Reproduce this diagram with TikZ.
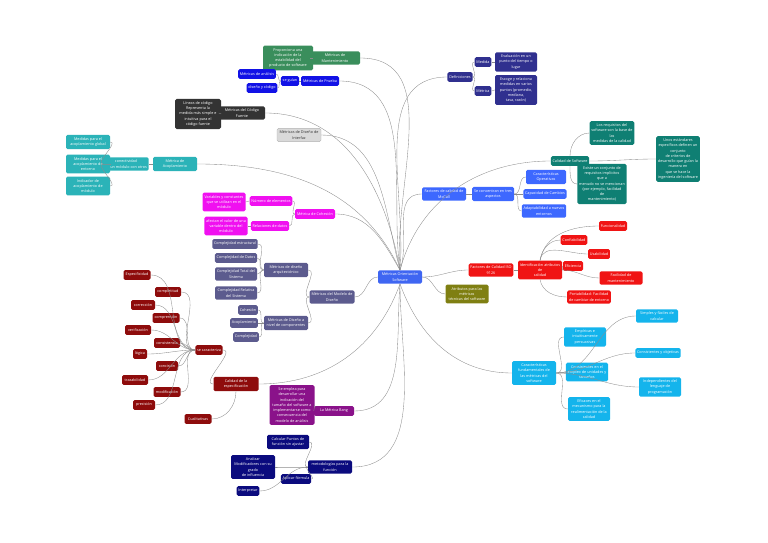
\documentclass[tikz,border=0pt]{standalone}
\usepackage{fontspec}
\setmainfont{Open Sans}
\definecolor{cMain}{HTML}{3F66F2}
\definecolor{cMant}{HTML}{3A8E5C}
\definecolor{cPrueba}{HTML}{1212E6}
\definecolor{cCod}{HTML}{333333}
\definecolor{cInt}{HTML}{D9D9D9}
\definecolor{cAcop}{HTML}{2BB3B8}
\definecolor{cCoh}{HTML}{F010F0}
\definecolor{cMod}{HTML}{5C5B8E}
\definecolor{cEsp}{HTML}{8E0C0C}
\definecolor{cBang}{HTML}{8A128A}
\definecolor{cMet}{HTML}{0B0B7E}
\definecolor{cDef}{HTML}{30308F}
\definecolor{cMcC}{HTML}{3D68FF}
\definecolor{cCal}{HTML}{0F7F73}
\definecolor{cIso}{HTML}{F01414}
\definecolor{cAtr}{HTML}{7F7F12}
\definecolor{cFund}{HTML}{14B4EC}
\begin{document}
\begin{tikzpicture}[x=0.3mm,y=-0.3mm,
  box/.style={rounded corners=1.3pt, text=white, align=center, inner xsep=1.5pt, inner ysep=2.2pt,
    minimum height=2.9mm, font=\fontsize{3.2}{4.5}\selectfont},
  mw/.style={minimum width=#1*0.3mm},
  conn/.style={draw=black!45, line width=0.3pt}]
  \useasboundingbox (0,0) rectangle (768,543);

  % centre of the map
  \node[box, fill=cMain, mw=44] (main) at (400,277) {Métricas Orientación\\Software};

  % Below nodes are the left branches.
  \node[box, fill=cMant, mw=50] (mant) at (335,58) {Métricas de\\Mantenimiento};
  \node[box, fill=cMant, mw=50] (mantd) at (288,58) {Proporciona una\\indicación de la\\estabilidad del\\producto de software};
  \node[box, fill=cPrueba, mw=38] (prueba) at (320,81) {Métricas de Prueba};
  \node[box, fill=cPrueba, mw=16] (guian) at (290,81) {se guían};
  \node[box, fill=cPrueba, mw=35] (analisis) at (257,74) {Métricas de análisis};
  \node[box, fill=cPrueba, mw=28] (discod) at (262,88) {diseño y código};
  \node[box, fill=cCod, mw=46] (codigo) at (242,113) {Métricas del Código\\Fuente};
  \node[box, fill=cCod, mw=46] (codigod) at (198,114) {Líneas de código\\Representa la\\medida más simple e\\intuitiva para el\\código fuente};
  \node[box, fill=cInt, draw=black!30, text=black!80, mw=44] (interfaz) at (299,135) {Métricas de Diseño de\\Interfaz};
  \node[box, fill=cAcop, mw=44] (acop) at (175,164) {Métrica de\\Acoplamiento};
  \node[box, fill=cAcop, mw=42] (conect) at (126,164) {conectividad\\de un módulo con otros};
  \node[box, fill=cAcop, mw=44] (ac1) at (88,142) {Medidas para el\\acoplamiento global};
  \node[box, fill=cAcop, mw=44] (ac2) at (88,164) {Medidas para el\\acoplamiento de\\entorno};
  \node[box, fill=cAcop, mw=44] (ac3) at (88,186) {Indicador de\\acoplamiento de\\módulo};
  \node[box, fill=cCoh, mw=40] (cohes) at (315,214) {Métrica de Cohesión};
  \node[box, fill=cCoh, mw=40] (numel) at (271,201) {Número de elementos};
  \node[box, fill=cCoh, mw=43] (numeld) at (224,202) {Variables y constantes\\que se utilizan en el\\módulo};
  \node[box, fill=cCoh, mw=36] (reldat) at (270,226) {Relaciones de datos};
  \node[box, fill=cCoh, mw=43] (reldatd) at (226,226) {afectan el valor de una\\variable dentro del\\módulo};
  \node[box, fill=cMod, mw=45] (modelo) at (332,297) {Métricas del Modelo de\\Diseño};
  \node[box, fill=cMod, mw=44] (arq) at (286,270) {Métricas de diseño\\arquitectónico};
  \node[box, fill=cMod, mw=43] (ca1) at (235,244) {Complejidad estructural};
  \node[box, fill=cMod, mw=38] (ca2) at (236,258) {Complejidad de Datos};
  \node[box, fill=cMod, mw=42] (ca3) at (236,274) {Complejidad Total del\\Sistema};
  \node[box, fill=cMod, mw=42] (ca4) at (236,293) {Complejidad Relativa\\del Sistema};
  \node[box, fill=cMod, mw=44] (compo) at (286,323) {Métricas de Diseño a\\nivel de componentes};
  \node[box, fill=cMod, mw=18] (cc1) at (248,310) {Cohesión};
  \node[box, fill=cMod, mw=27] (cc2) at (244,323) {Acoplamiento};
  \node[box, fill=cMod, mw=25] (cc3) at (246,337) {Complejidad};
  \node[box, fill=cEsp, mw=45] (espec) at (236,384) {Calidad de la\\especificación};
  \node[box, fill=cEsp, mw=26] (carac) at (209,350) {se caracteriza};
  \foreach \nm/\x/\y/\w/\txt in {e1/137/275/27/Especificidad, e2/168/292/26/completitud,
      e3/143/305/24/corrección, e4/166/318/27/comprensión, e5/138/330/26/verificación,
      e6/167/343/26/consistencia, e7/140/354/14/lógica, e8/167/366/22/concisión,
      e9/135/380/26/trazabilidad, e10/167/392/27/modificación, e11/144/405/22/precisión}
    \node[box, fill=cEsp, mw=\w] (\nm) at (\x,\y) {\txt};
  \node[box, fill=cEsp, mw=27] (cualit) at (198,419) {Cualitativas};
  \node[box, fill=cBang, mw=40] (bang) at (334,411) {La Métrica Bang};
  \node[box, fill=cBang, mw=45] (bangd) at (292,405) {Se emplea para\\desarrollar una\\indicación del\\tamaño del software a\\implementarse como\\consecuencia del\\modelo de análisis};
  \node[box, fill=cMet, mw=44] (metod) at (330,467) {metodologías para la\\función};
  \node[box, fill=cMet, mw=42] (m1) at (288,442) {Calcular Puntos de\\función sin ajustar};
  \node[box, fill=cMet, mw=44] (m2) at (253,467) {Analizar\\Modificadores con su\\grado\\de influencia};
  \node[box, fill=cMet, mw=30] (m3) at (296,479) {Aplicar fórmula};
  \node[box, fill=cMet, mw=22] (m4) at (248,491) {Interpretar};

  % Below nodes are the right branches.
  \node[box, fill=cDef, mw=22] (defin) at (460,77) {Definiciones};
  \node[box, fill=cDef, mw=15] (medida) at (483,62) {Medida};
  \node[box, fill=cDef, mw=42] (medidad) at (516,62) {Evaluación en un\\punto del tiempo o\\lugar};
  \node[box, fill=cDef, mw=15] (metrica) at (483,91) {Métrica};
  \node[box, fill=cDef, mw=42] (metricad) at (516,90) {Escoge y relaciona\\medidas en varios\\puntos (promedio,\\mediana,\\tasa, razón)};
  \node[box, fill=cMcC, mw=44] (mccall) at (444,194) {Factores de calidad de\\McCall};
  \node[box, fill=cMcC, mw=42] (tres) at (493,194) {Se concentran en tres\\aspectos};
  \node[box, fill=cMcC, mw=40] (t1) at (546,177) {Características\\Operativas};
  \node[box, fill=cMcC, mw=40] (t2) at (545,194) {Capacidad de Cambios};
  \node[box, fill=cMcC, mw=40] (t3) at (544,211) {Adaptabilidad a nuevos\\entornos};
  \node[box, fill=cCal, mw=38] (calsoft) at (570,161) {Calidad de Software};
  \node[box, fill=cCal, mw=42] (cs1) at (612,133) {Los requisitos del\\software son la base de\\las\\medidas de la calidad};
  \node[box, fill=cCal, mw=42] (cs2) at (602,184) {Existe un conjunto de\\requisitos implícitos\\que a\\menudo no se mencionan\\(por ejemplo, facilidad\\de\\mantenimiento)};
  \node[box, fill=cCal, mw=42] (cs3) at (678,159) {Unos estándares\\específicos definen un\\conjunto\\de criterios de\\desarrollo que guían la\\manera en\\que se hace la\\ingeniería del software};
  \node[box, fill=cIso, mw=44] (iso) at (491,270) {Factores de Calidad ISO\\9126};
  \node[box, fill=cIso, mw=44] (ident) at (540,270) {Identificación atributos\\de\\calidad};
  \node[box, fill=cIso, mw=26] (i1) at (613,226) {Funcionalidad};
  \node[box, fill=cIso, mw=24] (i2) at (574,240) {Confiabilidad};
  \node[box, fill=cIso, mw=20] (i3) at (599,254) {Usabilidad};
  \node[box, fill=cIso, mw=20] (i4) at (573,266) {Eficiencia};
  \node[box, fill=cIso, mw=43] (i5) at (621,278) {Facilidad de\\mantenimiento};
  \node[box, fill=cIso, mw=43] (i6) at (589,297) {Portabilidad: Facilidad\\de cambiar de entorno};
  \node[box, fill=cAtr, mw=43] (atrib) at (467,294) {Atributos para las\\métricas\\técnicas del software};
  \node[box, fill=cFund, mw=44] (fund) at (534,373) {Características\\fundamentales de\\las métricas del\\software};
  \node[box, fill=cFund, mw=42] (f1) at (657,316) {Simples y fáciles de\\calcular};
  \node[box, fill=cFund, mw=42] (f2) at (585,337) {Empíricas e\\intuitivamente\\persuasivas};
  \node[box, fill=cFund, mw=42] (f3) at (658,353) {Consistentes y objetivas};
  \node[box, fill=cFund, mw=42] (f4) at (587,372) {Consistentes en el\\empleo de unidades y\\tamaños};
  \node[box, fill=cFund, mw=42] (f5) at (660,387) {Independientes del\\lenguaje de\\programación};
  \node[box, fill=cFund, mw=42] (f6) at (589,409) {Eficaces en el\\mecanismo para la\\realimentación de la\\calidad};

  % branches from the centre
  \draw[conn] (main.north) to[out=95,in=0] (mant.east);
  \draw[conn] (main.north) to[out=98,in=0] (prueba.east);
  \draw[conn] (main.north) to[out=100,in=0] (codigo.east);
  \draw[conn] (main.north) to[out=105,in=0] (interfaz.east);
  \draw[conn] (main.north) to[out=115,in=0] (acop.east);
  \draw[conn] (main.north) to[out=120,in=0] (cohes.east);
  \draw[conn] (main.west) to[out=180,in=0] (modelo.east);
  \draw[conn] (main.south) to[out=-110,in=0] (espec.east);
  \draw[conn] (main.south) to[out=-95,in=0] (bang.east);
  \draw[conn] (main.south) to[out=-90,in=0] (metod.east);
  \draw[conn] (main.north) to[out=85,in=180] (defin.west);
  \draw[conn] (main.north) to[out=75,in=180] (calsoft.west);
  \draw[conn] (main.north) to[out=70,in=180] (mccall.west);
  \draw[conn] (main.east) to[out=0,in=180] (iso.west);
  \draw[conn] (main.east) to[out=0,in=180] (atrib.west);
  \draw[conn] (main.south) to[out=-70,in=180] (fund.west);

  % sub branches
  \draw[conn] (mant.west) -- (mantd.east);
  \draw[conn] (prueba.west) -- (guian.east);
  \draw[conn] (guian.west) to[out=180,in=0] (analisis.east);
  \draw[conn] (guian.west) to[out=180,in=0] (discod.east);
  \draw[conn] (codigo.west) -- (codigod.east);
  \draw[conn] (acop.west) -- (conect.east);
  \foreach \k in {ac1,ac2,ac3}
    \draw[conn] (conect.west) to[out=180,in=0] (\k.east);
  \draw[conn] (cohes.west) to[out=180,in=0] (numel.east);
  \draw[conn] (cohes.west) to[out=180,in=0] (reldat.east);
  \draw[conn] (numel.west) -- (numeld.east);
  \draw[conn] (reldat.west) -- (reldatd.east);
  \draw[conn] (modelo.west) to[out=180,in=0] (arq.east);
  \draw[conn] (modelo.west) to[out=180,in=0] (compo.east);
  \foreach \k in {ca1,ca2,ca3,ca4}
    \draw[conn] (arq.west) to[out=180,in=0] (\k.east);
  \foreach \k in {cc1,cc2,cc3}
    \draw[conn] (compo.west) to[out=180,in=0] (\k.east);
  \draw[conn] (espec.west) to[out=180,in=0] (carac.east);
  \draw[conn] (espec.south) to[out=-90,in=0] (cualit.east);
  \foreach \k in {e1,e2,e3,e4,e5,e6,e7,e8,e9,e10,e11}
    \draw[conn] (carac.west) to[out=180,in=0] (\k.east);
  \draw[conn] (bang.west) -- (bangd.east);
  \foreach \k in {m1,m2,m3,m4}
    \draw[conn] (metod.west) to[out=180,in=0] (\k.east);
  \draw[conn] (defin.east) to[out=0,in=180] (medida.west);
  \draw[conn] (defin.east) to[out=0,in=180] (metrica.west);
  \draw[conn] (medida.east) -- (medidad.west);
  \draw[conn] (metrica.east) -- (metricad.west);
  \draw[conn] (mccall.east) -- (tres.west);
  \foreach \k in {t1,t2,t3}
    \draw[conn] (tres.east) to[out=0,in=180] (\k.west);
  \draw[conn] (calsoft.north) to[out=90,in=180] (cs1.west);
  \draw[conn] (calsoft.south) to[out=-90,in=180] (cs2.west);
  \draw[conn] (calsoft.east) to[out=0,in=180] (cs3.west);
  \draw[conn] (iso.east) -- (ident.west);
  \draw[conn] (ident.north) to[out=80,in=180] (i1.west);
  \draw[conn] (ident.north) to[out=80,in=180] (i2.west);
  \draw[conn] (ident.north) to[out=80,in=180] (i3.west);
  \draw[conn] (ident.east) to[out=0,in=180] (i4.west);
  \draw[conn] (ident.east) to[out=0,in=180] (i5.west);
  \draw[conn] (ident.south) to[out=-80,in=180] (i6.west);
  \foreach \k in {f1,f2,f3,f4,f5,f6}
    \draw[conn] (fund.east) to[out=0,in=180] (\k.west);
\end{tikzpicture}
\end{document}
